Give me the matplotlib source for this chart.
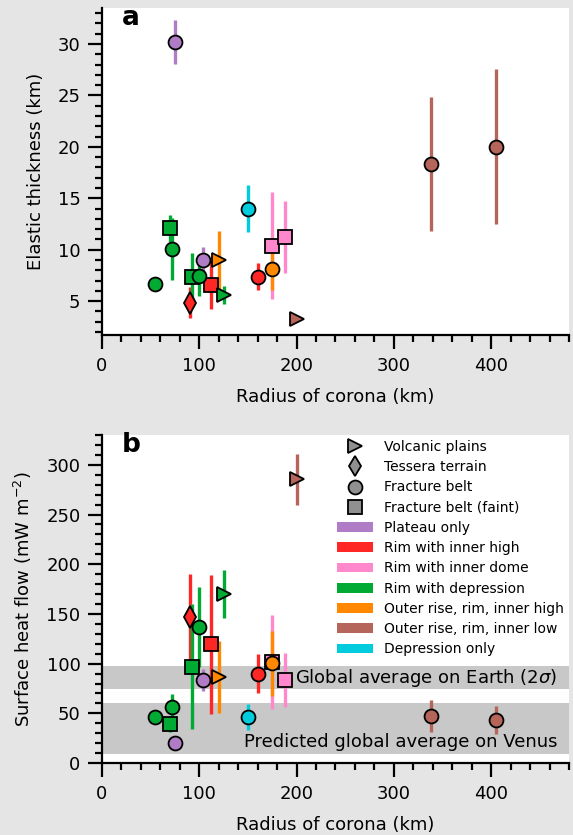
import numpy as np
import matplotlib
matplotlib.use("Agg")
import matplotlib.pyplot as plt
from matplotlib.ticker import MultipleLocator
from matplotlib.lines import Line2D
from matplotlib.patches import Patch

# corona data
radius = [75, 104, 90, 112.5, 160, 175, 188, 54, 70, 72.4, 92, 100, 125, 120, 175, 200, 338, 405, 150]
marker = ['o', 'o', 'd', 's', 'o', 's', 's', 'o', 's', 'o', 's', 'o', '>', '>', 'o', '>', 'o', 'o', 'o']
kind = ['plateau', 'plateau', 'rim_high', 'rim_high', 'rim_high', 'rim_dome', 'rim_dome',
        'rim_dep', 'rim_dep', 'rim_dep', 'rim_dep', 'rim_dep', 'rim_dep',
        'outer_high', 'outer_high', 'outer_low', 'outer_low', 'outer_low', 'depression']
Te = [30.2, 8.95, 4.85, 6.57, 7.38, 10.4, 11.2, 6.67, 12.06, 10.07, 7.38, 7.48, 5.6, 8.95, 8.1, 3.3, 18.3, 20.0, 14.0]
Te_err = [2.1, 1.3, 1.5, 2.3, 1.35, 5.2, 3.5, 0.3, 1.3, 3.0, 2.3, 2.0, 0.9, 2.9, 2.0, 0.2, 6.5, 7.55, 2.3]
q = [20.4, 83.4, 147, 119.6, 90, 101.8, 83.4, 46, 38.9, 56.6, 96.8, 137, 170, 86.7, 100.2, 285.4, 47.2, 43.2, 46]
q_err = [3, 11, 43, 70, 20, 47, 27, 3, 8, 13, 63, 40, 24, 36, 33, 25.5, 16, 14, 13]

colours = {'plateau': '#b07cc6', 'rim_high': '#ff2626', 'rim_dome': '#ff88cc',
           'rim_dep': '#00aa33', 'outer_high': '#ff8800', 'outer_low': '#b5655a',
           'depression': '#00ccdd'}
kind_labels = {'plateau': 'Plateau only', 'rim_high': 'Rim with inner high',
               'rim_dome': 'Rim with inner dome', 'rim_dep': 'Rim with depression',
               'outer_high': 'Outer rise, rim, inner high',
               'outer_low': 'Outer rise, rim, inner low', 'depression': 'Depression only'}
shape_labels = [('>', 'Volcanic plains'), ('d', 'Tessera terrain'),
                ('o', 'Fracture belt'), ('s', 'Fracture belt (faint)')]

earth_band = (74, 98)
venus_band = (9, 60)

plt.rcParams['font.size'] = 13
fig = plt.figure(figsize=(5.73, 8.35), dpi=100, facecolor='#e5e5e5')
axa = fig.add_axes([0.178, 0.5988, 0.815, 0.3916])
axb = fig.add_axes([0.178, 0.0862, 0.815, 0.3928])


def draw(ax, yv, ye):
    for i in range(len(radius)):
        c = colours[kind[i]]
        ax.errorbar(radius[i], yv[i], yerr=ye[i], fmt='none', ecolor=c, elinewidth=2.4, capsize=0, zorder=2)
        ms = 11 if marker[i] == 'd' else 10
        ax.plot(radius[i], yv[i], marker=marker[i], ms=ms, mfc=c, mec='k', mew=1.3, ls='none', zorder=3)


def style(ax):
    ax.set_xlim(0, 480)
    ax.spines['top'].set_visible(False)
    ax.spines['right'].set_visible(False)
    for s in ['left', 'bottom']:
        ax.spines[s].set_linewidth(1.6)
    ax.xaxis.set_major_locator(MultipleLocator(100))
    ax.xaxis.set_minor_locator(MultipleLocator(20))
    ax.tick_params(which='major', length=10, width=1.6, pad=5.5, labelsize=13)
    ax.tick_params(which='minor', length=5, width=1.6)
    ax.set_xlabel("Radius of corona (km)", fontsize=13, labelpad=10)


draw(axa, Te, Te_err)
style(axa)
axa.set_ylim(1.7, 33.5)
axa.yaxis.set_major_locator(MultipleLocator(5))
axa.yaxis.set_minor_locator(MultipleLocator(1))
axa.set_ylabel("Elastic thickness (km)", labelpad=9)
axa.text(0.042, 1.01, 'a', transform=axa.transAxes, va='top', ha='left', fontsize=19, fontweight='bold')

draw(axb, q, q_err)
style(axb)
axb.axhspan(*earth_band, color='#c8c8c8', lw=0, zorder=0)
axb.axhspan(*venus_band, color='#c8c8c8', lw=0, zorder=0)
axb.text(0.975, np.mean(earth_band), r"Global average on Earth (2$\sigma$)", transform=axb.get_yaxis_transform(),
         ha='right', va='center', fontsize=13, zorder=1)
axb.text(0.975, 21, "Predicted global average on Venus", transform=axb.get_yaxis_transform(),
         ha='right', va='center', fontsize=13, zorder=1)
axb.set_ylim(0, 330)
axb.yaxis.set_major_locator(MultipleLocator(50))
axb.yaxis.set_minor_locator(MultipleLocator(10))
axb.set_ylabel(r"Surface heat flow (mW m$^{-2}$)", labelpad=9)
axb.text(0.042, 1.01, 'b', transform=axb.transAxes, va='top', ha='left', fontsize=19, fontweight='bold')

handles = [Line2D([], [], marker=m, ms=10, mfc='#909090', mec='k', mew=1.3, ls='none') for m, _ in shape_labels]
labels = [l for _, l in shape_labels]
for k in colours:
    handles.append(Patch(facecolor=colours[k], edgecolor='none'))
    labels.append(kind_labels[k])
axb.legend(handles, labels, loc='upper right', frameon=False, fontsize=10, labelspacing=0.45,
           handlelength=2.6, handletextpad=0.8, borderaxespad=0.1, borderpad=0.25)

fig.savefig("out.png", dpi=100, facecolor=fig.get_facecolor())
